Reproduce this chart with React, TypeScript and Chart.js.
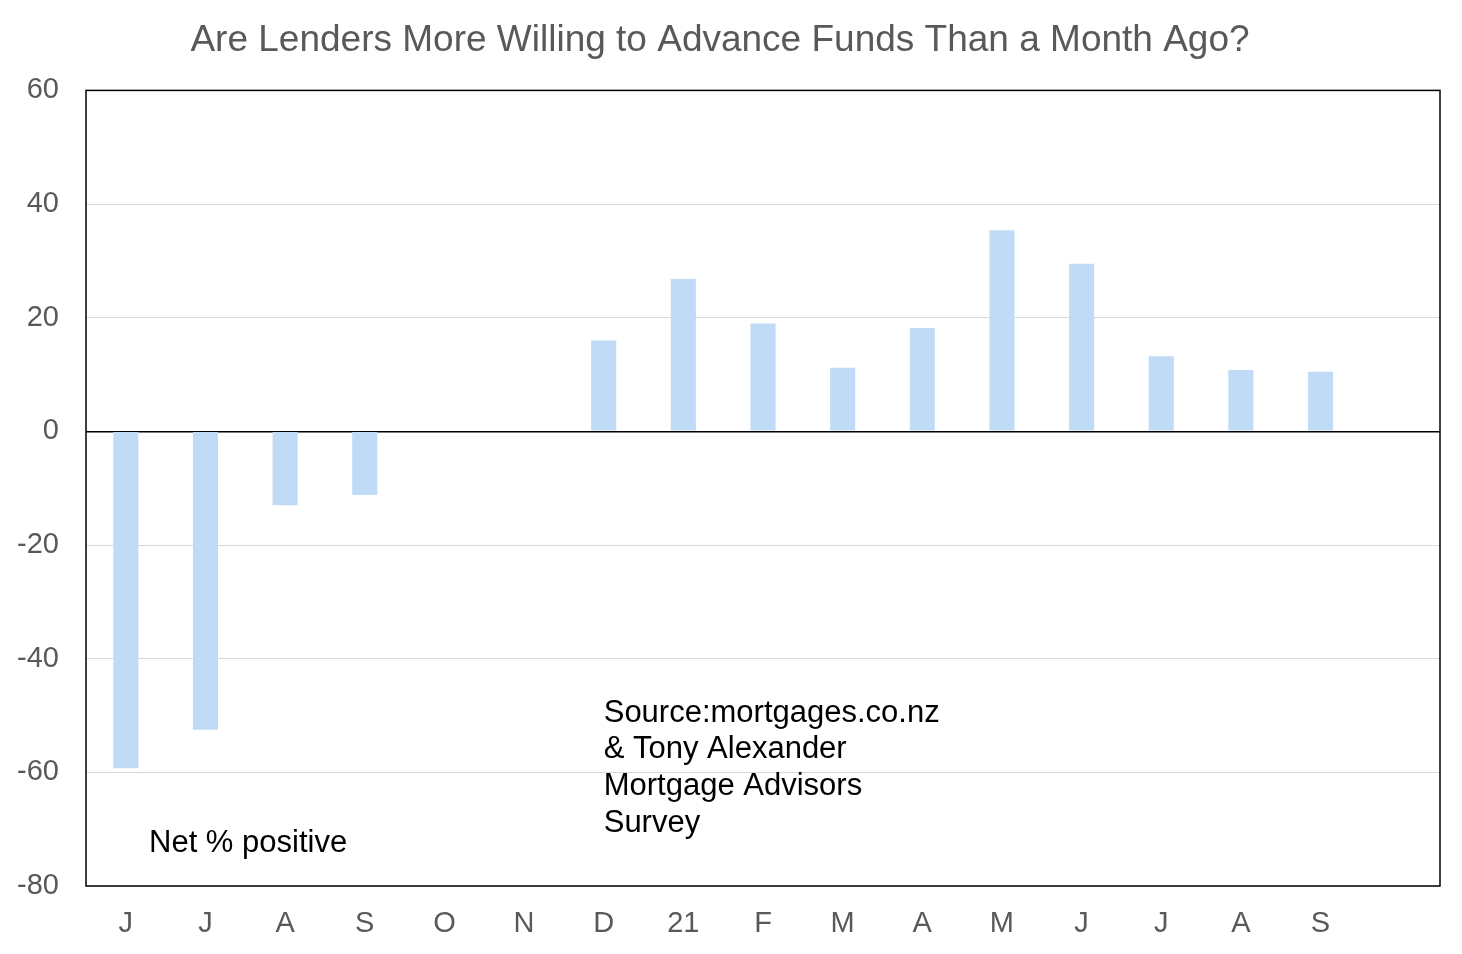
import { useEffect, useRef } from "react";
import { Chart, registerables } from "chart.js";

Chart.register(...registerables);

// monthly labels (Jun 2020 .. Sep 2021), one empty slot on the right
const months = ["J", "J", "A", "S", "O", "N", "D", "21", "F", "M", "A", "M", "J", "J", "A", "S", ""];
const netPositive = [-59.3, -52.5, -13, -11.2, 0, 0, 16, 26.8, 19, 11.2, 18.2, 35.4, 29.5, 13.2, 10.8, 10.5, null];
const yTicks = [-80, -60, -40, -20, 0, 20, 40, 60];

const sourceLines = ["Source:mortgages.co.nz", "& Tony Alexander", "Mortgage Advisors", "Survey"];
const seriesNote = "Net % positive";

const FONT = "'Liberation Sans', Arial, sans-serif";

const notes = {
  id: "notes",
  afterDraw(chart: any) {
    const { ctx, chartArea, scales } = chart;
    const x = scales.x;
    const y = scales.y;
    ctx.save();
    // frame around the plot
    ctx.strokeStyle = "#000";
    ctx.lineWidth = 1.5;
    ctx.strokeRect(chartArea.left, chartArea.top, chartArea.right - chartArea.left, chartArea.bottom - chartArea.top);

    ctx.fillStyle = "#000";
    ctx.font = `31px ${FONT}`;
    ctx.textAlign = "left";
    ctx.textBaseline = "middle";
    const sx = x.getPixelForValue(6);
    const sy = y.getPixelForValue(-49.6);
    sourceLines.forEach((line, i) => ctx.fillText(line, sx, sy + i * 36.7));
    ctx.fillText(seriesNote, chartArea.left + 63, y.getPixelForValue(-72.5));
    ctx.restore();
  },
};

export default function App() {
  const canvasRef = useRef<HTMLCanvasElement>(null);

  useEffect(() => {
    const canvas = canvasRef.current;
    if (!canvas) return;

    const chart = new Chart(canvas, {
      type: "bar",
      data: {
        labels: months,
        datasets: [
          {
            data: netPositive,
            backgroundColor: "#c0dbf6",
            barPercentage: 0.315,
            categoryPercentage: 1,
          },
        ],
      },
      options: {
        responsive: false,
        animation: false,
        layout: { padding: { left: 0, right: 22, top: 0, bottom: 0 } },
        plugins: {
          legend: { display: false },
          tooltip: { enabled: false },
          title: {
            display: true,
            text: "Are Lenders More Willing to Advance Funds Than a Month Ago?",
            color: "#595959",
            font: { family: FONT, size: 37, weight: "normal" },
            padding: { top: 19, bottom: 27 },
          },
        },
        scales: {
          x: {
            grid: { display: false },
            border: { display: false },
            ticks: {
              color: "#595959",
              font: { family: FONT, size: 29 },
              padding: 13,
              maxRotation: 0,
              autoSkip: false,
            },
            afterFit(scale: any) {
              scale.height = 68;
            },
          },
          y: {
            min: -80,
            max: 60,
            afterBuildTicks(scale: any) {
              scale.ticks = yTicks.map((v) => ({ value: v }));
            },
            grid: {
              drawTicks: false,
              color: (c: any) => (c.tick && c.tick.value === 0 ? "#000" : "#d9d9d9"),
              lineWidth: (c: any) => (c.tick && c.tick.value === 0 ? 1.5 : 1),
            },
            border: { display: false },
            ticks: {
              color: "#595959",
              font: { family: FONT, size: 29 },
              padding: 27,
            },
            afterFit(scale: any) {
              scale.width = 86;
            },
          },
        },
      },
      plugins: [notes],
    });

    return () => chart.destroy();
  }, []);

  return (
    <div style={{ position: "absolute", left: 0, top: 0, width: 1462, height: 954, background: "#fff" }}>
      <canvas ref={canvasRef} width={1462} height={954} />
    </div>
  );
}
